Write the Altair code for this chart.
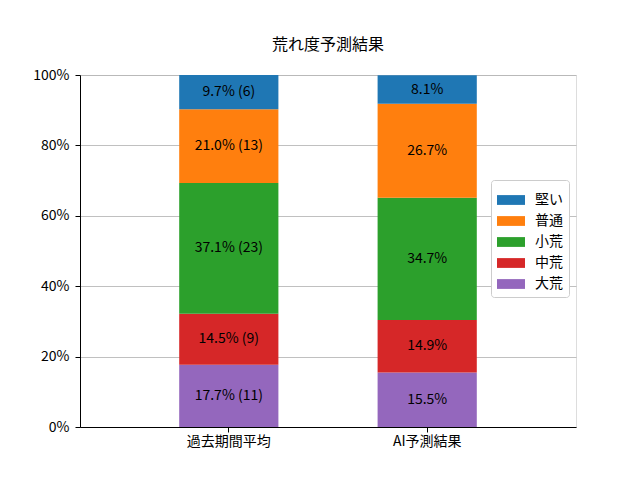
import altair as alt
import pandas as pd

categories = ["過去期間平均", "AI予測結果"]
levels = ["大荒", "中荒", "小荒", "普通", "堅い"]  # bottom to top
past_pct = [17.7, 14.5, 37.1, 21.0, 9.7]
past_cnt = [11, 9, 23, 13, 6]
ai_pct = [15.5, 14.9, 34.7, 26.7, 8.1]
legend_order = ["堅い", "普通", "小荒", "中荒", "大荒"]
legend_colors = ["#1f77b4", "#ff7f0e", "#2ca02c", "#d62728", "#9467bd"]
y_ticks = [0, 0.2, 0.4, 0.6, 0.8, 1.0]

rows = []
for cat, pcts, cnts in [(categories[0], past_pct, past_cnt), (categories[1], ai_pct, None)]:
    cum = 0.0
    for i, (lv, p) in enumerate(zip(levels, pcts)):
        lo = cum
        hi = cum + p
        cum = hi
        label = f"{p:.1f}% ({cnts[i]})" if cnts else f"{p:.1f}%"
        rows.append(dict(cat=cat, level=lv, lo=lo / 100, hi=hi / 100,
                         mid=(lo + hi) / 200, label=label))
df = pd.DataFrame(rows)

FONT = "Noto Sans CJK JP"

x_enc = alt.X(
    "cat:N", sort=categories,
    scale=alt.Scale(paddingInner=0.5, paddingOuter=0.5),
    axis=alt.Axis(title=None, labelAngle=0, labelFont=FONT, labelFontSize=14,
                  labelColor="black", tickColor="black", tickSize=5,
                  labelPadding=2, domainColor="black", grid=False),
)

bars = alt.Chart(df).mark_bar().encode(
    x=x_enc,
    y=alt.Y("lo:Q", scale=alt.Scale(domain=[0, 1], nice=False),
            axis=alt.Axis(title=None, values=y_ticks, format=".0%",
                          labelFont=FONT, labelFontSize=14, labelColor="black",
                          tickColor="black", tickSize=5, labelPadding=6,
                          domainColor="black", grid=True, gridColor="#b0b0b0",
                          gridWidth=0.8)),
    y2="hi:Q",
    color=alt.Color("level:N",
                    scale=alt.Scale(domain=legend_order, range=legend_colors),
                    legend=alt.Legend(
                        title=None, orient="none", legendX=411, legendY=105,
                        labelFont=FONT, labelFontSize=14, labelColor="black",
                        symbolType="M-1,-0.35L1,-0.35L1,0.35L-1,0.35Z",
                        symbolSize=784, symbolStrokeWidth=0,
                        fillColor="white", strokeColor="#cccccc",
                        cornerRadius=3, padding=6, rowPadding=-7,
                        labelOffset=10)),
)

text = alt.Chart(df).mark_text(font=FONT, fontSize=14, color="black").encode(
    x=alt.X("cat:N", sort=categories),
    y=alt.Y("mid:Q"),
    text="label:N",
)

chart = alt.layer(bars, text).properties(
    width=496, height=352,
    title=alt.TitleParams("荒れ度予測結果", font=FONT, fontSize=16,
                          fontWeight="normal", color="black", offset=15,
                          anchor="middle"),
    autosize=alt.AutoSizeParams(type="none"),
    padding={"left": 72, "top": 67, "right": 56, "bottom": 45},
).configure_view(stroke="black", strokeWidth=1).configure(background="white")

chart.save("out.html", embed_options={"renderer": "svg", "actions": False})
